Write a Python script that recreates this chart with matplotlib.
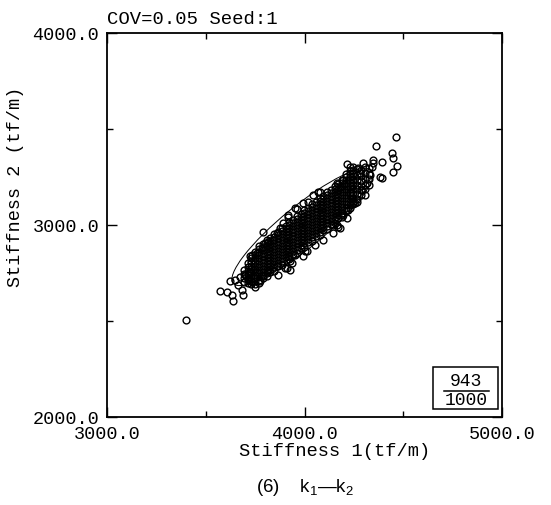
import matplotlib
matplotlib.use("Agg")
import matplotlib.pyplot as plt
from matplotlib.patches import Ellipse, Rectangle
from matplotlib.lines import Line2D

# ---- sample data: stiffness 1 (k1) and stiffness 2 (k2), tf/m ----
# dense central band, listed column by column (k1 value -> k2 values)
band_k1 = [3693, 3712, 3731, 3751, 3770, 3789, 3808, 3827, 3846, 3865,
           3885, 3904, 3923, 3942, 3961, 3980, 3999, 4019, 4038, 4057,
           4076, 4095, 4114, 4133, 4153, 4172, 4191, 4210, 4229, 4248,
           4267, 4286, 4306, 4325]
band_k2 = [
    [2705, 2725, 2745, 2765],
    [2700, 2720, 2740, 2760, 2780, 2800],
    [2695, 2710, 2725, 2740, 2755, 2770, 2785, 2800, 2815, 2830],
    [2695, 2710, 2725, 2740, 2755, 2770, 2785, 2800, 2815, 2830, 2845, 2860],
    [2700, 2716, 2732, 2748, 2764, 2780, 2796, 2812, 2828, 2844, 2860, 2876, 2892],
    [2724, 2740, 2756, 2772, 2788, 2804, 2820, 2836, 2852, 2868, 2884, 2900],
    [2732, 2748, 2764, 2780, 2796, 2812, 2828, 2844, 2860, 2876, 2892, 2908, 2924],
    [2755, 2771, 2787, 2803, 2819, 2835, 2851, 2867, 2883, 2899, 2915, 2931],
    [2763, 2779, 2795, 2811, 2827, 2843, 2859, 2875, 2891, 2907, 2923, 2939, 2955],
    [2786, 2802, 2818, 2834, 2850, 2866, 2882, 2898, 2914, 2930, 2946, 2962],
    [2794, 2810, 2826, 2842, 2858, 2874, 2890, 2906, 2922, 2938, 2954, 2970, 2986],
    [2818, 2834, 2850, 2866, 2882, 2898, 2914, 2930, 2946, 2962, 2978, 2994],
    [2825, 2841, 2857, 2873, 2889, 2905, 2921, 2937, 2953, 2969, 2985, 3001, 3017],
    [2849, 2865, 2881, 2897, 2913, 2929, 2945, 2961, 2977, 2993, 3009, 3025],
    [2856, 2872, 2888, 2904, 2920, 2936, 2952, 2968, 2984, 3000, 3016, 3032, 3048],
    [2880, 2896, 2912, 2928, 2944, 2960, 2976, 2992, 3008, 3024, 3040, 3056],
    [2888, 2904, 2920, 2936, 2952, 2968, 2984, 3000, 3016, 3032, 3048, 3064, 3080],
    [2911, 2927, 2943, 2959, 2975, 2991, 3007, 3023, 3039, 3055, 3071, 3087],
    [2919, 2935, 2951, 2967, 2983, 2999, 3015, 3031, 3047, 3063, 3079, 3095, 3111],
    [2942, 2958, 2974, 2990, 3006, 3022, 3038, 3054, 3070, 3086, 3102, 3118],
    [2950, 2966, 2982, 2998, 3014, 3030, 3046, 3062, 3078, 3094, 3110, 3126, 3142],
    [2974, 2990, 3006, 3022, 3038, 3054, 3070, 3086, 3102, 3118, 3134, 3150],
    [2981, 2997, 3013, 3029, 3045, 3061, 3077, 3093, 3109, 3125, 3141, 3157, 3173],
    [3005, 3021, 3037, 3053, 3069, 3085, 3101, 3117, 3133, 3149, 3165, 3181],
    [3012, 3028, 3044, 3060, 3076, 3092, 3108, 3124, 3140, 3156, 3172, 3188, 3204],
    [3036, 3052, 3068, 3084, 3100, 3116, 3132, 3148, 3164, 3180, 3196, 3212],
    [3044, 3060, 3076, 3092, 3108, 3124, 3140, 3156, 3172, 3188, 3204, 3220, 3236],
    [3075, 3091, 3107, 3123, 3139, 3155, 3171, 3187, 3203, 3219, 3235, 3251, 3267],
    [3090, 3106, 3122, 3138, 3154, 3170, 3186, 3202, 3218, 3234, 3250, 3266, 3282],
    [3110, 3126, 3142, 3158, 3174, 3190, 3206, 3222, 3238, 3254, 3270, 3286, 3300],
    [3135, 3160, 3185, 3210, 3235, 3260, 3290],
    [3155, 3180, 3205, 3230, 3255, 3285],
    [3185, 3210, 3240, 3270, 3300],
    [3210, 3240, 3265, 3295],
]

# scattered samples around the band
outer_k1 = [3401, 3574, 3607, 3633, 3638, 3623, 3648, 3664, 3684, 3688,
            3673, 3699, 3724, 3714, 3739, 3759, 3750, 3734, 3775, 3790,
            3816, 3865, 3734, 3759, 3785, 3800, 3816, 3911, 3937, 3952,
            3927, 3790, 3724, 3861, 3891, 3916, 3952, 3993, 4018, 4043,
            4079, 3876, 3841, 3916, 3962, 4068, 4165, 4179, 4144, 4094,
            4053, 4002, 3993, 3927, 3901, 3861, 4215, 4220, 4245, 4265,
            4190, 4230, 4170, 4013, 4215, 4296, 4347, 4347, 4393, 4443,
            4448, 4468, 4448, 4271, 4331, 4382, 4316, 4307, 4256, 4195,
            4144, 4281, 4245, 4195, 4165, 4291, 4464, 4362, 4393, 4181,
            4200, 4229, 4344]
outer_k2 = [2505, 2655, 2650, 2638, 2602, 2706, 2716, 2690, 2664, 2638,
            2727, 2742, 2753, 2716, 2768, 2753, 2675, 2701, 2706, 2732,
            2758, 2742, 2846, 2856, 2882, 2908, 2913, 2778, 2804, 2846,
            2768, 2965, 2836, 2960, 3012, 3054, 3090, 3116, 3121, 3157,
            3173, 2986, 2924, 3043, 3085, 3173, 3002, 2986, 2960, 2924,
            2898, 2862, 2836, 2810, 2778, 2784, 3038, 3080, 3116, 3121,
            3064, 3168, 2991, 2862, 3318, 3323, 3339, 3323, 3329, 3375,
            3349, 3308, 3277, 3298, 3261, 3251, 3220, 3157, 3116, 3054,
            3002, 3272, 3235, 3235, 3220, 3183, 3458, 3412, 3246, 3200,
            3215, 3300, 3300]

# confidence ellipse (centre, full axes, angle in degrees)
ell_center = (3990, 2990)
ell_axes = (916, 215)
ell_angle = 40.0

inside_count = 943
total_count = 1000

xticks = [3000, 4000, 5000]
yticks = [2000, 3000, 4000]
xminor = [3500, 4500]
yminor = [2500, 3500]
title = "COV=0.05 Seed:1"
xlabel = "Stiffness 1(tf/m)"
ylabel = "Stiffness 2 (tf/m)"

MONO = ["Liberation Mono", "DejaVu Sans Mono"]
SANS = ["Liberation Sans", "DejaVu Sans"]
plt.rcParams["mathtext.fontset"] = "custom"
plt.rcParams["mathtext.rm"] = "Liberation Sans"
plt.rcParams["mathtext.it"] = "Liberation Sans"

W, H = 551, 506
fig = plt.figure(figsize=(W / 100, H / 100), dpi=100)
L, R, T, B = 107, 502, 34, 418
ax = fig.add_axes([L / W, 1 - B / H, (R - L) / W, (B - T) / H])

k1 = []
k2 = []
for x, ys in zip(band_k1, band_k2):
    for y in ys:
        k1.append(x)
        k2.append(y)
k1 += outer_k1
k2 += outer_k2

ax.add_patch(Ellipse(ell_center, ell_axes[0], ell_axes[1], angle=ell_angle,
                     fill=False, edgecolor="black", linewidth=0.7))
ax.plot(k1, k2, linestyle="none", marker="o", markersize=4.9,
        markerfacecolor="none", markeredgecolor="black",
        markeredgewidth=1.0)

ax.set_xlim(3000, 5000)
ax.set_ylim(2000, 4000)
ax.set_xticks(xticks)
ax.set_xticklabels([f"{v:.1f}" for v in xticks])
ax.set_yticks(yticks)
ax.set_yticklabels([f"{v:.1f}" for v in yticks])
ax.set_xticks(xminor, minor=True)
ax.set_yticks(yminor, minor=True)
ax.tick_params(which="both", direction="in", top=True, right=True,
               width=1.0, colors="black")
ax.tick_params(which="major", length=7.5, pad=5.5)
ax.tick_params(which="minor", length=4)
for lab in ax.get_xticklabels() + ax.get_yticklabels():
    lab.set_fontfamily(MONO)
    lab.set_fontsize(13.3)
for sp in ax.spines.values():
    sp.set_linewidth(1.3)

fig.text(L / W, 1 - 20 / H, title, family=MONO, fontsize=13.6,
         ha="left", va="center")
fig.text(335 / W, 1 - 452 / H, xlabel, family=MONO, fontsize=13.5,
         ha="center", va="center")
fig.text(16 / W, 1 - 187 / H, ylabel, family=MONO, fontsize=13.3,
         ha="center", va="center", rotation=90)
fig.text(305 / W, 1 - 488 / H,
         "(6)    $\\mathrm{k_1}$\u2014$\\mathrm{k_2}$",
         family=SANS, fontsize=13.5, ha="center", va="center")

# count box in the lower right corner
bx0, bx1, by0, by1 = 433, 498, 368, 410
fig.add_artist(Rectangle((bx0 / W, 1 - by1 / H), (bx1 - bx0) / W,
                         (by1 - by0) / H, transform=fig.transFigure,
                         fill=False, edgecolor="black", linewidth=1.1))
fig.add_artist(Line2D([444 / W, 489 / W], [1 - 392 / H, 1 - 392 / H],
                      transform=fig.transFigure, color="black", linewidth=1.1))
fig.text(466 / W, 1 - 382 / H, str(inside_count), family=MONO,
         fontsize=13, ha="center", va="center")
fig.text(466 / W, 1 - 401 / H, str(total_count), family=MONO,
         fontsize=13, ha="center", va="center")

fig.savefig("out.png", dpi=100)
